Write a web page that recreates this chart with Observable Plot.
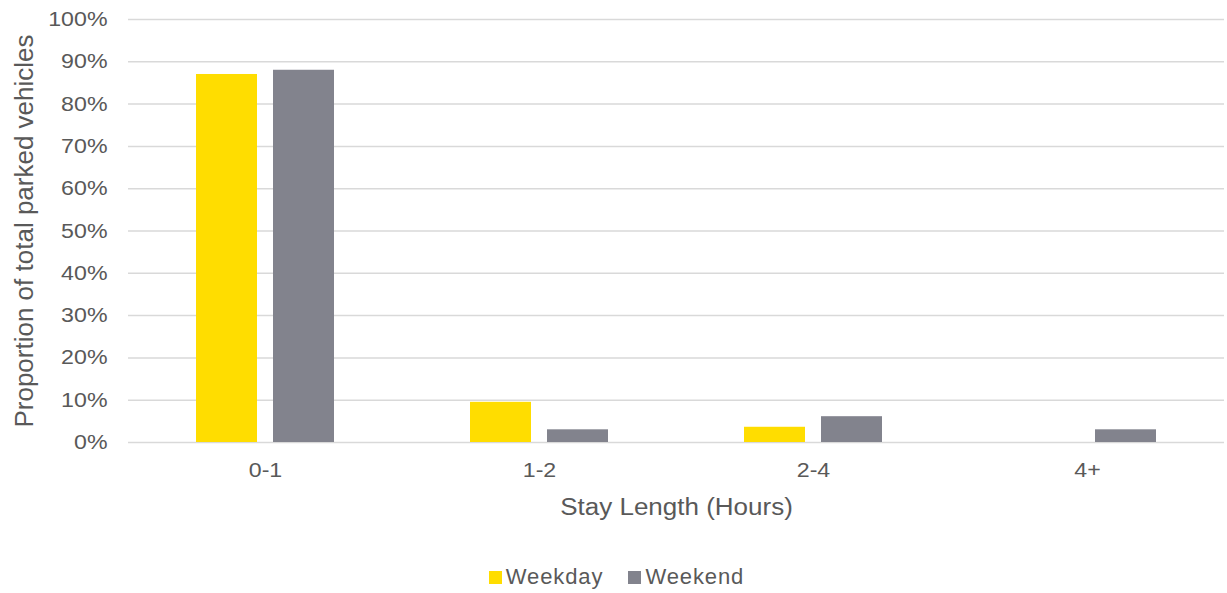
<!DOCTYPE html>
<html>
<head>
<meta charset="utf-8">
<script src="https://cdn.jsdelivr.net/npm/d3@7"></script>
<script src="https://cdn.jsdelivr.net/npm/@observablehq/plot@0.6"></script>
<style>
  html, body { margin: 0; padding: 0; background: #fff; }
  body { width: 1227px; height: 593px; overflow: hidden; font-family: "Liberation Sans", Arial, sans-serif; }
  #legend { display: flex; justify-content: center; align-items: center; height: 26px; margin-top: 24px; padding-left: 6px; color: #595959; font-size: 22px; }
  .item { display: flex; align-items: center; }
  .item + .item { margin-left: 25px; }
  .sw { width: 13px; height: 13px; margin-right: 4px; }
  .lab { letter-spacing: 0.9px; }
</style>
</head>
<body>
<div id="chart"></div>
<div id="legend"></div>
<script>
const categories = ["0-1", "1-2", "2-4", "4+"];
const seriesNames = ["Weekday", "Weekend"];
const weekday = [0.87, 0.095, 0.036, 0.0];
const weekend = [0.88, 0.030, 0.061, 0.030];
const colors = ["#FFDD00", "#82838D"];
const yTicks = [0, 0.1, 0.2, 0.3, 0.4, 0.5, 0.6, 0.7, 0.8, 0.9, 1.0];

const rows = [];
categories.forEach((c, i) => {
  rows.push({cat: c, series: seriesNames[0], value: weekday[i]});
  rows.push({cat: c, series: seriesNames[1], value: weekend[i]});
});

const textColor = "#595959";

const plot = Plot.plot({
  width: 1227,
  height: 540,
  marginTop: 19,
  marginBottom: 98,
  marginLeft: 127,
  marginRight: 2,
  style: {fontFamily: "'Liberation Sans', Arial, sans-serif", color: textColor, background: "#fff"},
  fx: {domain: categories, padding: 0, label: null},
  x: {domain: seriesNames, paddingInner: 0.205, paddingOuter: 0.862, axis: null},
  y: {domain: [0, 1], label: null},
  color: {domain: seriesNames, range: colors},
  marks: [
    Plot.ruleY(yTicks, {stroke: "#d9d9d9", strokeWidth: 1.5}),
    Plot.barY(rows, {fx: "cat", x: "series", y: "value", fill: "series"}),
    Plot.axisY({
      ticks: yTicks, tickFormat: d3.format(".0%"), tickSize: 0, tickPadding: 21,
      fontSize: 20.5, fill: textColor,
      label: "Proportion of total parked vehicles", labelAnchor: "center", labelArrow: "none", labelOffset: 114
    }),
    Plot.axisFx({
      anchor: "bottom",
      tickSize: 0, tickPadding: 20, fontSize: 20.5, fill: textColor,
      label: "Stay Length (Hours)", labelAnchor: "center", labelArrow: "none", labelOffset: 72
    })
  ]
});
document.getElementById("chart").appendChild(plot);

// style axis labels
const svg = d3.select(plot);
svg.selectAll('g[aria-label="y-axis label"] text').style("font-size", "26px");
svg.selectAll('g[aria-label="fx-axis label"] text').style("font-size", "23px");
// horizontal stretch to mimic the reference's wide glyphs
function stretch(sel, k) {
  svg.selectAll(sel).each(function() {
    const len = this.getComputedTextLength();
    this.setAttribute("textLength", (len * k).toFixed(1));
    this.setAttribute("lengthAdjust", "spacingAndGlyphs");
  });
}
stretch('g[aria-label="y-axis tick label"] text', 1.13);
stretch('g[aria-label="fx-axis tick label"] text', 1.13);
stretch('g[aria-label="fx-axis label"] text', 1.13);

// legend
const legend = d3.select("#legend");
seriesNames.forEach((s, i) => {
  const it = legend.append("div").attr("class", "item");
  it.append("div").attr("class", "sw").style("background", colors[i]);
  it.append("span").attr("class", "lab").text(s);
});
</script>
</body>
</html>
